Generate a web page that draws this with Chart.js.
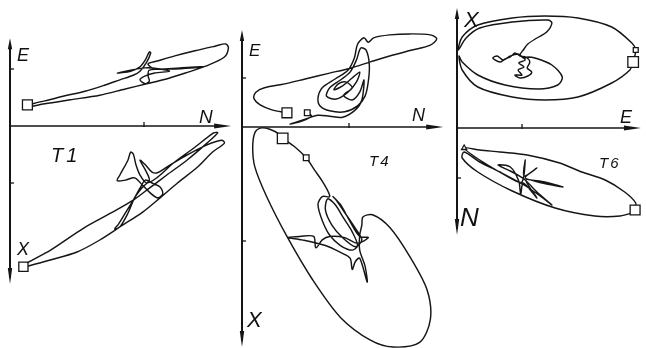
<!DOCTYPE html>
<html>
<head>
<meta charset="utf-8">
<script src="https://cdn.jsdelivr.net/npm/chart.js@4.4.1/dist/chart.umd.min.js"></script>
<style>
  html, body { margin: 0; padding: 0; background: #fff; }
  #fig { position: relative; width: 646px; height: 348px; overflow: hidden; background: #fff; }
  #fig canvas { position: absolute; }
  .lbl { position: absolute; font-family: "Liberation Sans", Arial, sans-serif; font-style: italic; line-height: 1; color: #111; white-space: nowrap; }
</style>
</head>
<body>
<div id="fig">
  <canvas id="t1" width="235" height="262" style="left:0px;top:30px"></canvas>
  <canvas id="t4" width="210" height="326" style="left:236px;top:22px"></canvas>
  <canvas id="t6" width="197" height="240" style="left:449px;top:2px"></canvas>

  <span class="lbl" style="left:17px;top:46px;font-size:18px">E</span>
  <span class="lbl" style="left:199px;top:107px;font-size:19px">N</span>
  <span class="lbl" style="left:51px;top:145px;font-size:20px;letter-spacing:3px">T1</span>
  <span class="lbl" style="left:17px;top:240px;font-size:18px">X</span>

  <span class="lbl" style="left:249px;top:42px;font-size:17px">E</span>
  <span class="lbl" style="left:412px;top:106px;font-size:18px">N</span>
  <span class="lbl" style="left:369px;top:153px;font-size:15px;letter-spacing:2px">T4</span>
  <span class="lbl" style="left:247px;top:309px;font-size:22px">X</span>

  <span class="lbl" style="left:464px;top:9px;font-size:22px">X</span>
  <span class="lbl" style="left:620px;top:108px;font-size:18px">E</span>
  <span class="lbl" style="left:599px;top:155px;font-size:15px;letter-spacing:2px">T6</span>
  <span class="lbl" style="left:460px;top:204px;font-size:26px">N</span>
</div>

<script>
// ---- T1: E(N) above the N axis, X(N) below it (X grows downward)
const t1TopN = [0.13,0.26,0.41,0.56,0.71,0.82,0.92,0.97,1.02,1.05,1.04,1.01,0.97,0.90,0.80,0.90,1.01,1.12,1.19,1.08,1.01,0.97,1.01,1.04,1.03,1.04,1.23,1.44,1.27,1.08,1.03,1.10,1.23,1.38,1.53,1.61,1.63,1.60,1.46,1.31,1.16,1.02,0.86,0.67,0.45,0.26,0.14];
const t1TopE = [0.37,0.44,0.53,0.61,0.72,0.81,0.89,0.96,1.12,1.28,1.30,1.16,1.04,0.96,0.93,0.98,1.02,1.00,0.96,0.93,0.88,0.81,0.74,0.79,0.88,0.98,1.00,1.04,1.02,1.00,1.09,1.14,1.23,1.32,1.40,1.44,1.37,1.21,1.05,0.93,0.82,0.74,0.65,0.54,0.46,0.39,0.33];
const t1LowN = [0.10,0.13,0.30,0.55,0.75,0.92,1.04,1.17,1.32,1.47,1.55,1.52,1.37,1.22,1.10,1.02,0.97,0.94,0.92,0.90,0.88,0.82,0.80,0.86,0.93,0.99,1.04,1.10,1.14,1.12,1.06,1.01,0.97,0.92,0.86,0.81,0.78,0.82,0.88,0.93,0.99,1.04,1.01,0.97,1.01,1.06,1.10,1.17,1.32,1.47,1.58,1.60,1.51,1.40,1.25,1.12,0.99,0.84,0.67,0.50,0.30,0.13];
const t1LowX = [2.47,2.40,2.18,1.79,1.53,1.30,1.09,0.86,0.60,0.30,0.12,0.12,0.39,0.65,0.90,1.00,0.86,0.68,0.49,0.46,0.60,0.86,0.96,0.95,0.91,1.04,1.16,1.26,1.19,1.07,1.00,0.95,1.09,1.30,1.53,1.72,1.81,1.77,1.53,1.26,1.07,0.95,0.77,0.60,0.68,0.81,0.82,0.72,0.51,0.33,0.25,0.30,0.46,0.72,1.00,1.26,1.51,1.74,2.00,2.21,2.35,2.46];

// ---- T4
const t4TopN = [0.42,0.28,0.17,0.11,0.13,0.21,0.40,0.59,0.82,1.01,1.20,1.38,1.59,1.76,1.82,1.76,1.57,1.38,1.23,1.18,1.14,1.08,1.05,0.99,0.87,0.75,0.71,0.73,0.82,0.96,1.08,1.15,1.18,1.19,1.16,1.11,1.07,1.01,0.92,0.82,0.79,0.88,0.99,1.07,1.10,1.03,0.94,0.86,0.90,0.97,1.03,0.95,1.03,1.10,1.14,1.12,1.06,0.94,0.82,0.71,0.59,0.45,0.56,0.65,0.61];
const t4TopE = [0.29,0.35,0.45,0.59,0.71,0.80,0.88,0.98,1.10,1.20,1.33,1.45,1.57,1.67,1.80,1.88,1.90,1.88,1.82,1.73,1.82,1.69,1.41,1.16,0.98,0.80,0.59,0.43,0.33,0.31,0.43,0.63,0.92,1.27,1.57,1.61,1.37,1.12,0.96,0.80,0.63,0.57,0.71,0.92,1.12,1.00,0.84,0.76,0.88,0.92,0.80,0.65,0.55,0.71,0.96,0.55,0.35,0.20,0.22,0.24,0.16,0.06,0.12,0.22,0.29];
const t4LowN = [0.38,0.50,0.60,0.68,0.76,0.82,0.75,0.71,0.75,0.82,0.92,1.03,1.08,1.03,0.95,0.87,0.80,0.78,0.84,0.94,1.06,1.12,1.06,0.96,0.88,0.85,0.92,1.01,1.10,1.18,1.08,0.96,0.82,0.75,0.69,0.67,0.54,0.43,0.56,0.78,0.92,1.01,1.03,1.06,1.10,1.17,1.15,1.10,1.10,1.12,1.13,1.22,1.38,1.57,1.73,1.76,1.66,1.41,1.20,0.92,0.66,0.42,0.23,0.12,0.10,0.12,0.17,0.26,0.36,0.38];
const t4LowX = [0.10,0.18,0.27,0.38,0.49,0.61,0.61,0.68,0.82,0.95,1.04,1.08,1.04,0.92,0.80,0.68,0.63,0.73,0.86,0.97,1.05,0.99,0.89,0.75,0.64,0.61,0.68,0.83,0.96,0.97,1.02,0.97,0.96,0.99,1.06,0.96,0.96,0.97,0.99,1.04,1.10,1.15,1.25,1.18,1.15,1.36,1.22,1.08,0.95,0.86,0.79,0.77,0.88,1.14,1.43,1.69,1.89,1.93,1.87,1.67,1.34,0.96,0.61,0.35,0.18,0.05,0.01,0.02,0.07,0.10];
// second (small) time marks on the T4 paths: [N, value]
const t4TopMark = [0.61, 0.29];
const t4LowMark = [0.60, 0.27];

// ---- T6: X(E) above the E axis, N(E) below it
const t6TopE = [2.71,2.75,2.69,2.38,1.86,1.35,0.85,0.32,0.08,0.02,0.14,0.35,0.85,1.40,1.46,1.38,1.23,1.09,1.02,0.97,1.05,0.95,1.03,0.94,1.00,0.89,0.97,1.09,1.15,1.08,1.12,1.06,0.97,0.89,0.82,0.74,0.66,0.55,0.62,0.71,0.82,0.94,1.03,1.09,1.20,1.46,1.62,1.55,1.25,0.74,0.32,0.08,0.03,0.08,0.32,0.85,1.35,1.86,2.38,2.66,2.71];
const t6TopX = [1.32,1.56,1.70,2.02,2.20,2.24,2.20,2.06,1.82,1.56,1.80,2.00,2.12,2.16,2.10,1.92,1.80,1.68,1.56,1.46,1.36,1.30,1.22,1.16,1.06,1.06,1.00,1.04,1.12,1.20,1.32,1.42,1.44,1.50,1.42,1.38,1.32,1.40,1.44,1.36,1.44,1.48,1.40,1.42,1.40,1.26,1.02,0.86,0.78,0.86,1.06,1.32,1.44,1.16,0.82,0.62,0.56,0.62,0.90,1.16,1.32];
const t6LowE = [2.74,2.75,2.58,2.28,1.92,1.58,1.08,0.66,0.35,0.11,0.28,0.55,0.82,1.00,1.05,1.03,1.23,1.05,1.35,1.63,1.31,1.06,1.23,1.02,0.98,0.95,0.82,0.63,0.82,1.03,1.23,1.46,1.28,1.03,0.66,0.35,0.11,0.08,0.32,0.85,1.51,2.12,2.51,2.74];
const t6LowN = [1.64,1.50,1.28,1.04,0.88,0.70,0.54,0.48,0.44,0.40,0.58,0.80,1.00,1.08,0.64,0.96,0.80,1.00,1.08,1.18,1.10,1.04,1.40,1.10,1.32,1.06,0.78,0.74,0.86,1.02,1.28,1.54,1.36,1.14,0.88,0.68,0.48,0.60,0.88,1.26,1.60,1.76,1.76,1.68];
const t6TopMark = [2.75, 1.56];
const t6LowMark = [0.11, 0.40];

// tick positions (same unit on each axis)
const t1Ticks = { h: [1], up: [1], down: [1] };
const t4Ticks = { h: [1], up: [1], down: [1] };
const t6Ticks = { h: [1], up: [], down: [1] };

const INK = '#151515';

// axes drawn through the chart scales: origin, arrows, ticks
const axesPlugin = {
  id: 'panelAxes',
  beforeDatasetsDraw(chart, args, o) {
    const ctx = chart.ctx;
    const sx = chart.scales.x, su = chart.scales.yUp, sd = chart.scales.yDown;
    const x0 = sx.getPixelForValue(0), y0 = su.getPixelForValue(0);
    const xEnd = sx.getPixelForValue(o.hEnd);
    const yTop = su.getPixelForValue(o.upEnd);
    const yBot = sd.getPixelForValue(o.downEnd);
    ctx.save();
    ctx.strokeStyle = INK;
    ctx.fillStyle = INK;
    ctx.lineCap = 'butt';

    // horizontal axis
    ctx.lineWidth = 1.6;
    ctx.beginPath();
    ctx.moveTo(x0, y0);
    ctx.lineTo(xEnd - 10, y0);
    ctx.stroke();
    ctx.beginPath();
    ctx.moveTo(xEnd, y0);
    ctx.lineTo(xEnd - 17, y0 - 2.4);
    ctx.lineTo(xEnd - 17, y0 + 2.4);
    ctx.closePath();
    ctx.fill();

    // vertical axis
    ctx.lineWidth = 2;
    ctx.beginPath();
    ctx.moveTo(x0, yTop + 6);
    ctx.lineTo(x0, yBot - 6);
    ctx.stroke();
    ctx.beginPath();
    ctx.moveTo(x0, yTop);
    ctx.lineTo(x0 - 2.2, yTop + 11);
    ctx.lineTo(x0 + 2.2, yTop + 11);
    ctx.closePath();
    ctx.fill();
    ctx.beginPath();
    ctx.moveTo(x0, yBot);
    ctx.lineTo(x0 - 2.2, yBot - 16);
    ctx.lineTo(x0 + 2.2, yBot - 16);
    ctx.closePath();
    ctx.fill();

    // ticks
    ctx.lineWidth = 1.3;
    o.ticks.h.forEach(v => {
      const px = sx.getPixelForValue(v);
      ctx.beginPath(); ctx.moveTo(px, y0 - 4); ctx.lineTo(px, y0 + 1); ctx.stroke();
    });
    o.ticks.up.forEach(v => {
      const py = su.getPixelForValue(v);
      ctx.beginPath(); ctx.moveTo(x0, py); ctx.lineTo(x0 + 4, py); ctx.stroke();
    });
    o.ticks.down.forEach(v => {
      const py = sd.getPixelForValue(v);
      ctx.beginPath(); ctx.moveTo(x0, py); ctx.lineTo(x0 + 4, py); ctx.stroke();
    });
    ctx.restore();
  }
};

function trace(xs, ys, axis) {
  return {
    data: xs.map((v, i) => ({ x: v, y: ys[i] })),
    yAxisID: axis,
    showLine: true,
    borderColor: INK,
    borderWidth: 1.45,
    pointRadius: 0,
    tension: 0.3,
    order: 2
  };
}

function mark(x, y, axis, r, style) {
  return {
    data: [{ x: x, y: y }],
    yAxisID: axis,
    showLine: false,
    pointStyle: style || 'rect',
    pointRadius: r,
    pointBackgroundColor: '#fff',
    pointBorderColor: INK,
    pointBorderWidth: 1.3,
    order: 1
  };
}

// g: canvas box and origin in page pixels, plus pixels per unit on each axis
function buildPanel(id, g, datasets, axisOpts) {
  const ox = g.ox - g.left, oy = g.oy - g.top;
  new Chart(document.getElementById(id), {
    type: 'scatter',
    data: { datasets: datasets },
    options: {
      responsive: false,
      animation: false,
      events: [],
      layout: { padding: 0, autoPadding: false },
      plugins: { legend: { display: false }, tooltip: { enabled: false }, panelAxes: axisOpts },
      scales: {
        x: { type: 'linear', display: false, min: -ox / g.ux, max: (g.width - ox) / g.ux },
        y: { type: 'linear', display: false },
        yUp: { type: 'linear', display: false, min: -(g.height - oy) / g.uUp, max: oy / g.uUp },
        yDown: { type: 'linear', display: false, reverse: true, min: -oy / g.uDown, max: (g.height - oy) / g.uDown }
      }
    },
    plugins: [axesPlugin]
  });
}

buildPanel('t1',
  { left: 0, top: 30, width: 235, height: 262, ox: 10, oy: 126, ux: 134, uUp: 57, uDown: 57 },
  [
    trace(t1TopN, t1TopE, 'yUp'),
    trace(t1LowN, t1LowX, 'yDown'),
    mark(t1TopN[0], t1TopE[0], 'yUp', 7),
    mark(t1LowN[0], t1LowX[0], 'yDown', 6.5)
  ],
  { hEnd: 1.65, upEnd: 1.54, downEnd: 2.77, ticks: t1Ticks });

buildPanel('t4',
  { left: 236, top: 22, width: 210, height: 326, ox: 242, oy: 127, ux: 107, uUp: 49, uDown: 114 },
  [
    trace(t4TopN, t4TopE, 'yUp'),
    trace(t4LowN, t4LowX, 'yDown'),
    mark(t4TopN[0], t4TopE[0], 'yUp', 7),
    mark(t4TopMark[0], t4TopMark[1], 'yUp', 4),
    mark(t4LowN[0], t4LowX[0], 'yDown', 7.5),
    mark(t4LowMark[0], t4LowMark[1], 'yDown', 4)
  ],
  { hEnd: 1.88, upEnd: 1.98, downEnd: 1.93, ticks: t4Ticks });

buildPanel('t6',
  { left: 449, top: 2, width: 197, height: 240, ox: 457, oy: 128, ux: 65, uUp: 50, uDown: 50 },
  [
    trace(t6TopE, t6TopX, 'yUp'),
    trace(t6LowE, t6LowN, 'yDown'),
    mark(t6TopE[0], t6TopX[0], 'yUp', 7.5),
    mark(t6TopMark[0], t6TopMark[1], 'yUp', 3.5),
    mark(t6LowE[0], t6LowN[0], 'yDown', 7),
    mark(t6LowMark[0], t6LowMark[1], 'yDown', 3, 'triangle')
  ],
  { hEnd: 2.83, upEnd: 2.40, downEnd: 2.14, ticks: t6Ticks });
</script>
</body>
</html>
